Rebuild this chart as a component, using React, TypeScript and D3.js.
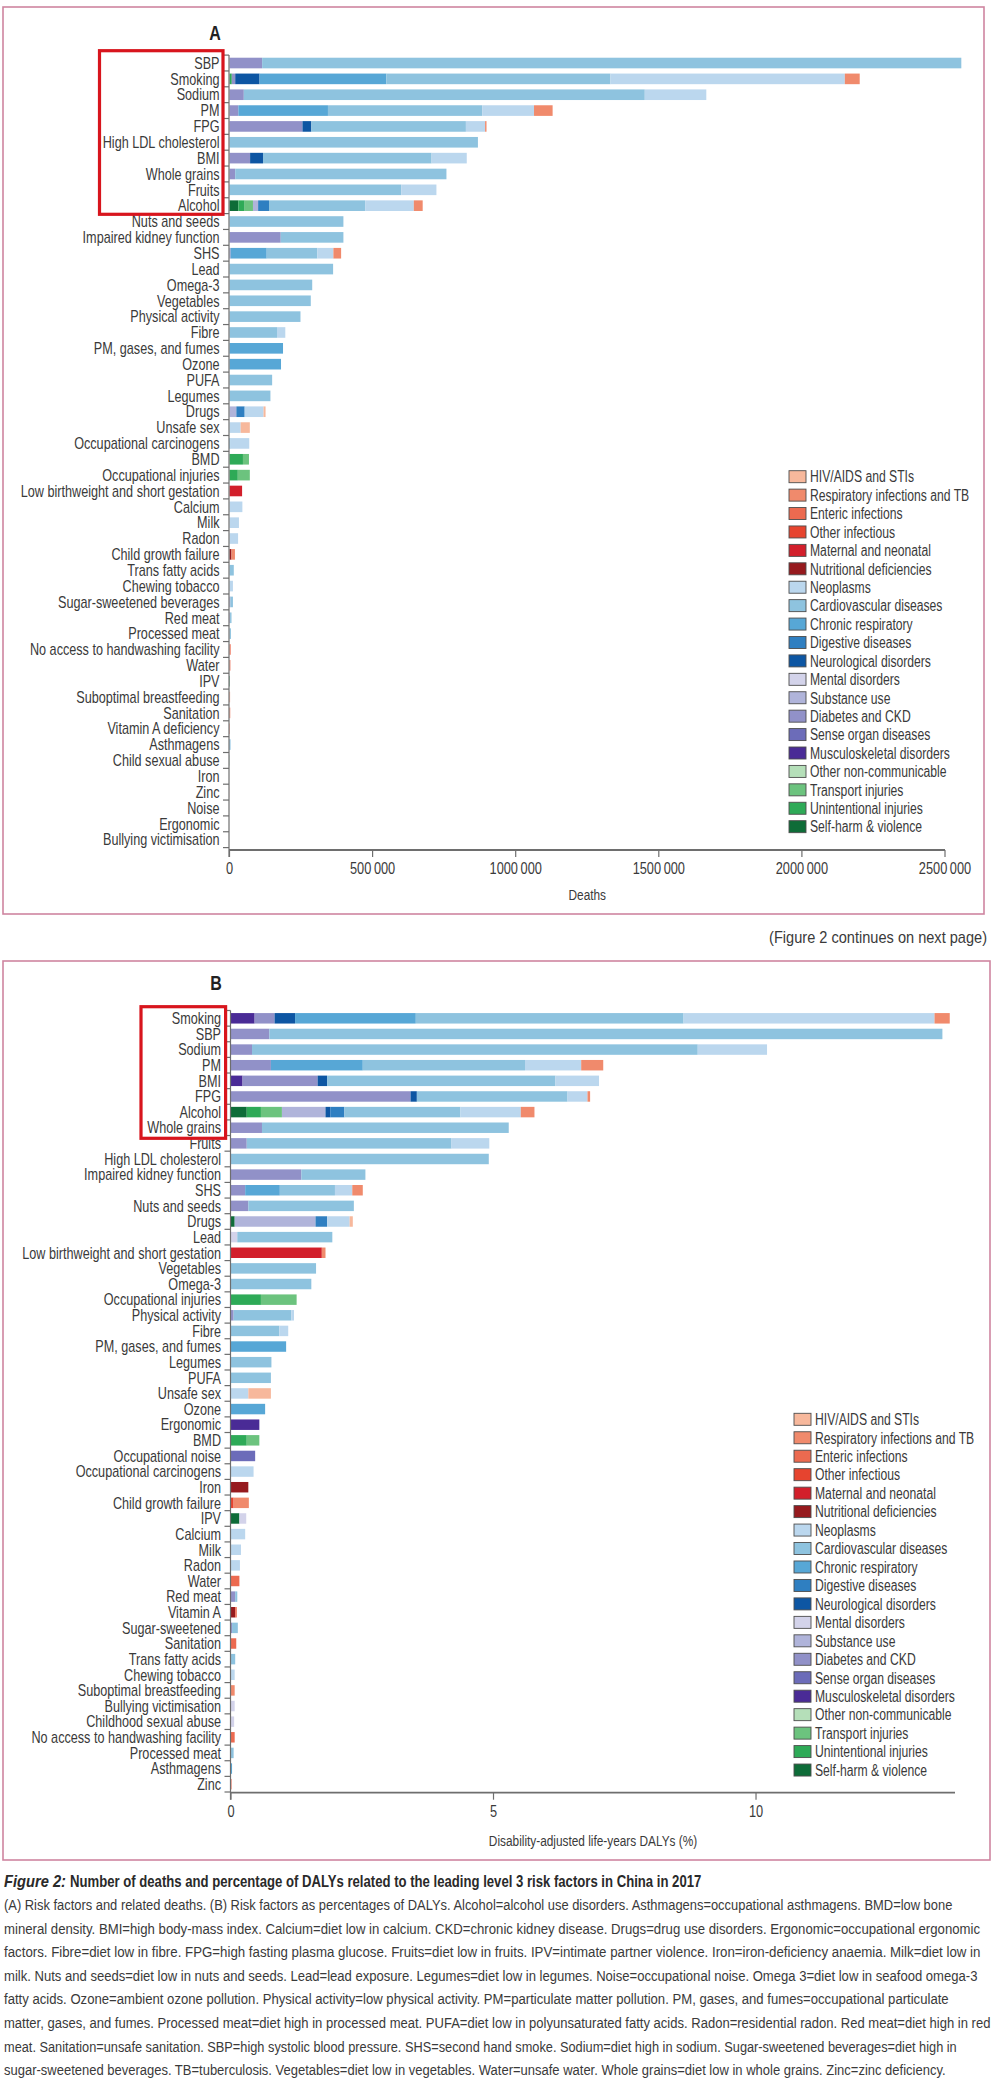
import React from "react";
import * as d3 from "d3";

const FONT = "'Liberation Sans', Arial, sans-serif";
const TEXT = "#3a3a3a";
const AXIS = "#6e6e6e";
const BOX = "#cf85a0";
const HIGHLIGHT = "#d8151d";

const causeNames = [
  "HIV/AIDS and STIs", "Respiratory infections and TB", "Enteric infections", "Other infectious",
  "Maternal and neonatal", "Nutritional deficiencies", "Neoplasms", "Cardiovascular diseases",
  "Chronic respiratory", "Digestive diseases", "Neurological disorders", "Mental disorders",
  "Substance use", "Diabetes and CKD", "Sense organ diseases", "Musculoskeletal disorders",
  "Other non-communicable", "Transport injuries", "Unintentional injuries", "Self-harm & violence",
];
const causeKeys = ["hiv", "resp", "ent", "oinf", "mat", "nut", "neo", "cvd", "chr", "dig", "neu", "men", "sub", "dia", "sen", "mus", "oncd", "tra", "uni", "shv"];
const causeColors = [
  "#f7b89c", "#f08a6c", "#ec6a50", "#e6442f", "#d21f2b", "#961a1e", "#bbd7ee", "#8ec3df",
  "#57a7d6", "#2f7fc1", "#0d56a3", "#d3d3ea", "#b0b4da", "#9191c8", "#6c6cb9", "#4a2b96",
  "#b5dfb9", "#6cc37e", "#2eaa57", "#0e6c38",
];

const riskFactorsA = [
  "SBP", "Smoking", "Sodium", "PM", "FPG", "High LDL cholesterol", "BMI", "Whole grains", "Fruits", "Alcohol",
  "Nuts and seeds", "Impaired kidney function", "SHS", "Lead", "Omega-3", "Vegetables", "Physical activity", "Fibre",
  "PM, gases, and fumes", "Ozone", "PUFA", "Legumes", "Drugs", "Unsafe sex", "Occupational carcinogens", "BMD",
  "Occupational injuries", "Low birthweight and short gestation", "Calcium", "Milk", "Radon", "Child growth failure",
  "Trans fatty acids", "Chewing tobacco", "Sugar-sweetened beverages", "Red meat", "Processed meat",
  "No access to handwashing facility", "Water", "IPV", "Suboptimal breastfeeding", "Sanitation",
  "Vitamin A deficiency", "Asthmagens", "Child sexual abuse", "Iron", "Zinc", "Noise", "Ergonomic", "Bullying victimisation",
];

const deathsA: Record<string, number>[] = [
  { dia: 114000, cvd: 2443000 },
  { uni: 8000, dia: 12000, neu: 85000, chr: 443000, cvd: 783000, neo: 819000, resp: 52000 },
  { dia: 50000, cvd: 1401000, neo: 215000 },
  { dia: 31000, chr: 313000, cvd: 539000, neo: 181000, resp: 65000 },
  { dia: 255000, neu: 31000, cvd: 540000, neo: 67000, resp: 5000 },
  { cvd: 868000 },
  { dia: 72000, neu: 45000, cvd: 589000, neo: 123000 },
  { dia: 20000, cvd: 738000 },
  { cvd: 600000, neo: 123000 },
  { shv: 31000, uni: 22000, tra: 29000, sub: 18000, dig: 38000, cvd: 336000, neo: 170000, resp: 31000 },
  { cvd: 398000 },
  { dia: 179000, cvd: 219000 },
  { dia: 4000, chr: 126000, cvd: 177000, neo: 56000, resp: 27000 },
  { cvd: 362000 },
  { cvd: 289000 },
  { cvd: 284000 },
  { cvd: 248000 },
  { cvd: 166000, neo: 29000 },
  { chr: 187000 },
  { chr: 180000 },
  { cvd: 149000 },
  { cvd: 143000 },
  { sub: 24000, dig: 29000, neo: 66000, hiv: 7000 },
  { neo: 39000, hiv: 32000 },
  { chr: 3000, neo: 66000 },
  { uni: 47000, tra: 21000 },
  { uni: 29000, tra: 42000 },
  { mat: 44000 },
  { neo: 45000 },
  { neo: 33000 },
  { neo: 30000 },
  { nut: 7000, resp: 12000 },
  { cvd: 15000 },
  { neo: 12000 },
  { dia: 3000, cvd: 9000 },
  { dia: 2000, cvd: 5000 },
  { cvd: 5000 },
  { ent: 4000 },
  { ent: 3000 },
  { shv: 1500 },
  { resp: 2000 },
  { ent: 2500 },
  { ent: 1500 },
  { chr: 3000 },
  { shv: 500 },
  {},
  { ent: 300 },
  {},
  {},
  {},
];

const riskFactorsB = [
  "Smoking", "SBP", "Sodium", "PM", "BMI", "FPG", "Alcohol", "Whole grains", "Fruits", "High LDL cholesterol",
  "Impaired kidney function", "SHS", "Nuts and seeds", "Drugs", "Lead", "Low birthweight and short gestation",
  "Vegetables", "Omega-3", "Occupational injuries", "Physical activity", "Fibre", "PM, gases, and fumes", "Legumes",
  "PUFA", "Unsafe sex", "Ozone", "Ergonomic", "BMD", "Occupational noise", "Occupational carcinogens", "Iron",
  "Child growth failure", "IPV", "Calcium", "Milk", "Radon", "Water", "Red meat", "Vitamin A", "Sugar-sweetened",
  "Sanitation", "Trans fatty acids", "Chewing tobacco", "Suboptimal breastfeeding", "Bullying victimisation",
  "Childhood sexual abuse", "No access to handwashing facility", "Processed meat", "Asthmagens", "Zinc",
];

const dalysB: Record<string, number>[] = [
  { mus: 0.45, dia: 0.38, neu: 0.39, chr: 2.3, cvd: 5.1, neo: 4.78, resp: 0.29 },
  { dia: 0.73, cvd: 12.82 },
  { dia: 0.4, cvd: 8.49, neo: 1.32 },
  { dia: 0.76, chr: 1.75, cvd: 3.09, neo: 1.07, resp: 0.42 },
  { mus: 0.22, dia: 1.43, neu: 0.18, cvd: 4.35, neo: 0.83 },
  { dia: 3.42, neu: 0.12, cvd: 2.87, neo: 0.38, resp: 0.05 },
  { shv: 0.3, uni: 0.27, tra: 0.4, sub: 0.83, neu: 0.09, dig: 0.27, cvd: 2.21, neo: 1.15, resp: 0.26 },
  { dia: 0.59, cvd: 4.7 },
  { dia: 0.3, cvd: 3.9, neo: 0.72 },
  { cvd: 4.91 },
  { dia: 1.34, cvd: 1.22 },
  { dia: 0.27, chr: 0.66, cvd: 1.05, neo: 0.33, resp: 0.2 },
  { dia: 0.33, cvd: 2.01 },
  { shv: 0.07, sub: 1.54, dig: 0.22, neo: 0.43, hiv: 0.06 },
  { men: 0.12, cvd: 1.81 },
  { mat: 1.73, resp: 0.07 },
  { cvd: 1.62 },
  { cvd: 1.53 },
  { uni: 0.57, tra: 0.68 },
  { dia: 0.05, cvd: 1.1, neo: 0.05 },
  { cvd: 0.92, neo: 0.17 },
  { chr: 1.05 },
  { cvd: 0.77 },
  { cvd: 0.76 },
  { neo: 0.33, hiv: 0.43 },
  { chr: 0.65 },
  { mus: 0.54 },
  { uni: 0.3, tra: 0.24 },
  { sen: 0.46 },
  { neo: 0.43 },
  { nut: 0.33 },
  { oinf: 0.05, resp: 0.29 },
  { shv: 0.16, men: 0.13 },
  { neo: 0.27 },
  { neo: 0.19 },
  { neo: 0.17 },
  { ent: 0.16 },
  { dia: 0.08, cvd: 0.04 },
  { nut: 0.08, ent: 0.03 },
  { dia: 0.02, cvd: 0.11 },
  { ent: 0.1 },
  { cvd: 0.08 },
  { neo: 0.07 },
  { resp: 0.07 },
  { men: 0.07 },
  { men: 0.06 },
  { ent: 0.07 },
  { cvd: 0.05 },
  { chr: 0.02 },
  { ent: 0.01 },
];

const deathTicks = [0, 500000, 1000000, 1500000, 2000000, 2500000];
const dalyTicks = [0, 5, 10];

const captionLabel = "Figure 2:";
const captionTitle = "Number of deaths and percentage of DALYs related to the leading level 3 risk factors in China in 2017";
const captionLines = [
  "(A) Risk factors and related deaths. (B) Risk factors as percentages of DALYs. Alcohol=alcohol use disorders. Asthmagens=occupational asthmagens. BMD=low bone",
  "mineral density. BMI=high body-mass index. Calcium=diet low in calcium. CKD=chronic kidney disease. Drugs=drug use disorders. Ergonomic=occupational ergonomic",
  "factors. Fibre=diet low in fibre. FPG=high fasting plasma glucose. Fruits=diet low in fruits. IPV=intimate partner violence. Iron=iron-deficiency anaemia. Milk=diet low in",
  "milk. Nuts and seeds=diet low in nuts and seeds. Lead=lead exposure. Legumes=diet low in legumes. Noise=occupational noise. Omega 3=diet low in seafood omega-3",
  "fatty acids. Ozone=ambient ozone pollution. Physical activity=low physical activity. PM=particulate matter pollution. PM, gases, and fumes=occupational particulate",
  "matter, gases, and fumes. Processed meat=diet high in processed meat. PUFA=diet low in polyunsaturated fatty acids. Radon=residential radon. Red meat=diet high in red",
  "meat. Sanitation=unsafe sanitation. SBP=high systolic blood pressure. SHS=second hand smoke. Sodium=diet high in sodium. Sugar-sweetened beverages=diet high in",
  "sugar-sweetened beverages. TB=tuberculosis. Vegetables=diet low in vegetables. Water=unsafe water. Whole grains=diet low in whole grains. Zinc=zinc deficiency.",
];
const captionWidths = [951, 977, 977, 974, 945, 987, 954, 942];

const fmtDeaths = (v: number) => {
  const s = String(v);
  return s.length > 3 ? s.slice(0, -3) + "\u2009" + s.slice(-3) : s;
};
const fmtDaly = (v: number) => String(v);

// width measurement for fitting text to the reference widths
let measureCtx: CanvasRenderingContext2D | null = null;
function measure(s: string, font: string): number {
  if (typeof document === "undefined") return s.length * 7;
  if (!measureCtx) measureCtx = document.createElement("canvas").getContext("2d");
  if (!measureCtx) return s.length * 7;
  measureCtx.font = font;
  return measureCtx.measureText(s).width;
}

// condensed text: horizontal compression to mimic the condensed typeface of the original
function T(props: {
  x: number;
  y: number;
  size: number;
  sx?: number;
  anchor?: "start" | "middle" | "end";
  weight?: string;
  italic?: boolean;
  fill?: string;
  dy?: string;
  children: React.ReactNode;
}) {
  const sx = props.sx ?? 0.8;
  return (
    <text
      transform={`translate(${props.x},${props.y}) scale(${sx},1)`}
      textAnchor={props.anchor ?? "start"}
      fontSize={props.size}
      fontWeight={props.weight ?? "normal"}
      fontStyle={props.italic ? "italic" : "normal"}
      fill={props.fill ?? TEXT}
      dy={props.dy}
    >
      {props.children}
    </text>
  );
}

// text squeezed to a given width
function Fit(props: { x: number; y: number; size: number; width: number; text: string; weight?: string; italic?: boolean; fill?: string; anchor?: "start" | "end" }) {
  const font = `${props.italic ? "italic " : ""}${props.weight ?? "normal"} ${props.size}px 'Liberation Sans', Arial, sans-serif`;
  const w = measure(props.text, font);
  const sx = Math.min(1.2, props.width / w);
  return (
    <T x={props.x} y={props.y} size={props.size} sx={sx} weight={props.weight} italic={props.italic} fill={props.fill} anchor={props.anchor}>
      {props.text}
    </T>
  );
}

type PanelProps = {
  letter: string;
  letterX: number;
  letterY: number;
  labels: string[];
  rows: Record<string, number>[];
  xDomain: [number, number];
  xRange: [number, number];
  axisEnd: number;
  bandTop: number;
  bandBottom: number;
  axisY: number;
  ticks: number[];
  fmt: (v: number) => string;
  axisTitle: string;
  axisTitleY: number;
  box: [number, number, number, number];
  highlight: [number, number, number, number];
  legendX: number;
  legendY: number;
  legendStep: number;
};

function Panel(p: PanelProps) {
  const x = d3.scaleLinear().domain(p.xDomain).range(p.xRange);
  const y = d3
    .scaleBand<string>()
    .domain(p.labels)
    .range([p.bandTop, p.bandBottom])
    .paddingInner(0.33)
    .paddingOuter(0.165);
  const stackKeys = [...causeKeys].reverse();
  const series = d3
    .stack<Record<string, number>>()
    .keys(stackKeys)
    .value((d, k) => d[k] ?? 0)(p.rows);
  const step = y.step();
  const x0 = p.xRange[0];
  const boundaries = d3.range(p.labels.length + 1).map((i) => p.bandTop + i * step);
  const labelX = x0 - 10;

  return (
    <g>
      <rect x={p.box[0]} y={p.box[1]} width={p.box[2] - p.box[0]} height={p.box[3] - p.box[1]} fill="none" stroke={BOX} strokeWidth={1.6} />
      <T x={p.letterX} y={p.letterY} size={20} sx={0.8} anchor="middle" weight="bold" fill="#222">{p.letter}</T>
      {series.map((s) => {
        const ci = causeKeys.indexOf(s.key);
        return (
          <g key={s.key} fill={causeColors[ci]}>
            {s.map((seg, i) => {
              const w = x(seg[1]) - x(seg[0]);
              if (w <= 0) return null;
              return <rect key={i} x={x(seg[0])} y={y(p.labels[i])} width={w} height={y.bandwidth()} />;
            })}
          </g>
        );
      })}
      {/* y axis */}
      <line x1={x0 - 0.5} x2={x0 - 0.5} y1={p.bandTop} y2={p.axisY + 7} stroke={AXIS} strokeWidth={1.2} />
      {boundaries.map((b, i) => (
        <line key={i} x1={x0 - 6.5} x2={x0 - 0.5} y1={b} y2={b} stroke={AXIS} strokeWidth={1.2} />
      ))}
      {p.labels.map((l) => (
        <T key={l} x={labelX} y={(y(l) ?? 0) + y.bandwidth() / 2} dy="0.36em" anchor="end" size={16} sx={0.79}>
          {l}
        </T>
      ))}
      {/* x axis */}
      <line x1={x0 - 0.5} x2={p.axisEnd} y1={p.axisY} y2={p.axisY} stroke={AXIS} strokeWidth={1.8} />
      {p.ticks.map((t) => (
        <g key={t}>
          <line x1={x(t)} x2={x(t)} y1={p.axisY} y2={p.axisY + 7} stroke={AXIS} strokeWidth={1.2} />
          <T x={x(t)} y={p.axisY + 24} anchor="middle" size={16} sx={0.8}>
            {p.fmt(t)}
          </T>
        </g>
      ))}
      <T x={(x0 + p.axisEnd) / 2} y={p.axisTitleY} anchor="middle" size={15} sx={0.79}>
        {p.axisTitle}
      </T>
      {/* highlight box */}
      <rect
        x={p.highlight[0]}
        y={p.highlight[1]}
        width={p.highlight[2] - p.highlight[0]}
        height={p.highlight[3] - p.highlight[1]}
        fill="none"
        stroke={HIGHLIGHT}
        strokeWidth={3.2}
      />
      {/* legend */}
      {causeNames.map((n, i) => {
        const cy = p.legendY + i * p.legendStep;
        return (
          <g key={n}>
            <rect x={p.legendX} y={cy - 6} width={17} height={12} fill={causeColors[i]} stroke="#4d4d4d" strokeWidth={0.9} />
            <T x={p.legendX + 21} y={cy} dy="0.36em" size={16} sx={0.76}>
              {n}
            </T>
          </g>
        );
      })}
    </g>
  );
}

export default function App() {
  return (
    <svg
      width={1000}
      height={2086}
      viewBox="0 0 1000 2086"
      style={{ position: "absolute", left: 0, top: 0, background: "#fff" }}
      fontFamily={FONT}
    >
      <rect width={1000} height={2086} fill="#fff" />
      <Panel
        letter="A"
        letterX={215}
        letterY={40}
        labels={riskFactorsA}
        rows={deathsA}
        xDomain={[0, 2500000]}
        xRange={[229.5, 945]}
        axisEnd={945}
        bandTop={55.1}
        bandBottom={847.6}
        axisY={850}
        ticks={deathTicks}
        fmt={fmtDeaths}
        axisTitle="Deaths"
        axisTitleY={900}
        box={[3, 7, 984, 914]}
        highlight={[99.5, 50.7, 223, 214.3]}
        legendX={789}
        legendY={476.7}
        legendStep={18.42}
      />
      <Fit x={987} y={943} size={16} width={218} anchor="end" text="(Figure 2 continues on next page)" />
      <Panel
        letter="B"
        letterX={216}
        letterY={990}
        labels={riskFactorsB}
        rows={dalysB}
        xDomain={[0, 13.79]}
        xRange={[231, 955]}
        axisEnd={955}
        bandTop={1010.5}
        bandBottom={1792}
        axisY={1792.7}
        ticks={dalyTicks}
        fmt={fmtDaly}
        axisTitle="Disability-adjusted life-years DALYs (%)"
        axisTitleY={1845.5}
        box={[3, 961, 990, 1860]}
        highlight={[141, 1006.7, 225.6, 1138.3]}
        legendX={794}
        legendY={1419.3}
        legendStep={18.46}
      />
      <Fit x={4} y={1887} size={16} width={62} weight="bold" italic fill="#2a2a2a" text={captionLabel} />
      <Fit x={70} y={1887} size={16} width={632} weight="bold" fill="#2a2a2a" text={captionTitle} />
      {captionLines.map((l, i) => (
        <Fit key={i} x={4} y={1910 + i * 23.6} size={15.5} width={captionWidths[i]} text={l} />
      ))}
    </svg>
  );
}
